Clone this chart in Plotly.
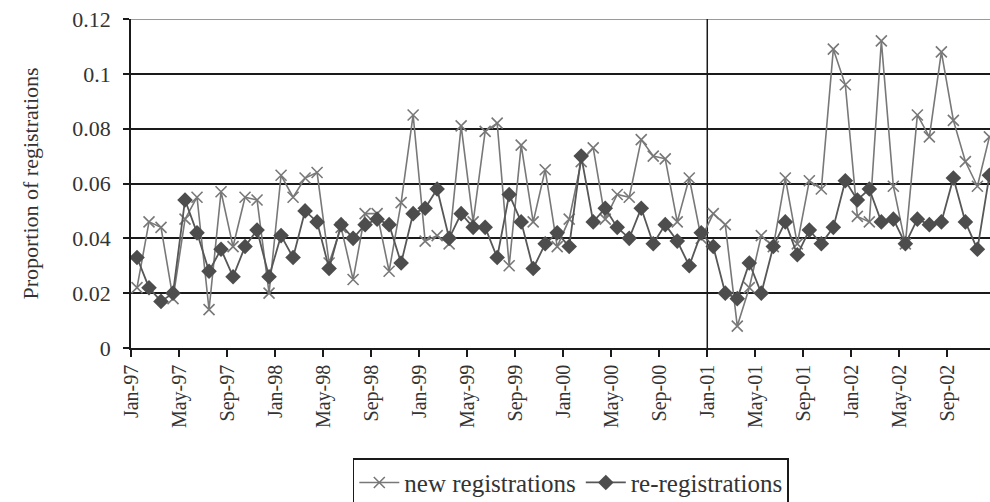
import plotly.graph_objects as go

# Monthly share of registrations, Jan-1997 .. Dec-2002
new_registrations = [
    0.022, 0.046, 0.044, 0.018, 0.047, 0.055, 0.014, 0.057, 0.037, 0.055, 0.054, 0.020,
    0.063, 0.055, 0.062, 0.064, 0.031, 0.044, 0.025, 0.049, 0.049, 0.028, 0.053, 0.085,
    0.039, 0.041, 0.038, 0.081, 0.046, 0.079, 0.082, 0.030, 0.074, 0.046, 0.065, 0.037,
    0.047, 0.068, 0.073, 0.047, 0.056, 0.055, 0.076, 0.070, 0.069, 0.046, 0.062, 0.040,
    0.049, 0.045, 0.008, 0.022, 0.041, 0.037, 0.062, 0.038, 0.061, 0.058, 0.109, 0.096,
    0.048, 0.046, 0.112, 0.059, 0.038, 0.085, 0.077, 0.108, 0.083, 0.068, 0.059, 0.077,
]
re_registrations = [
    0.033, 0.022, 0.017, 0.020, 0.054, 0.042, 0.028, 0.036, 0.026, 0.037, 0.043, 0.026,
    0.041, 0.033, 0.050, 0.046, 0.029, 0.045, 0.040, 0.045, 0.047, 0.045, 0.031, 0.049,
    0.051, 0.058, 0.040, 0.049, 0.044, 0.044, 0.033, 0.056, 0.046, 0.029, 0.038, 0.042,
    0.037, 0.070, 0.046, 0.051, 0.044, 0.040, 0.051, 0.038, 0.045, 0.039, 0.030, 0.042,
    0.037, 0.020, 0.018, 0.031, 0.020, 0.037, 0.046, 0.034, 0.043, 0.038, 0.044, 0.061,
    0.054, 0.058, 0.046, 0.047, 0.038, 0.047, 0.045, 0.046, 0.062, 0.046, 0.036, 0.063,
]
tick_labels = [
    "Jan-97", "May-97", "Sep-97", "Jan-98", "May-98", "Sep-98",
    "Jan-99", "May-99", "Sep-99", "Jan-00", "May-00", "Sep-00",
    "Jan-01", "May-01", "Sep-01", "Jan-02", "May-02", "Sep-02",
]
y_ticks = [0, 0.02, 0.04, 0.06, 0.08, 0.1, 0.12]
y_tick_labels = ["0", "0.02", "0.04", "0.06", "0.08", "0.1", "0.12"]

months = list(range(len(new_registrations)))
label_step = 4
# category boundaries: each month occupies one unit centred on its index
tick_positions = [i * label_step - 0.5 for i in range(len(tick_labels))]
break_position = tick_labels.index("Jan-01") * label_step - 0.5

FONT = "Liberation Serif"
TEXT = "#333333"

fig = go.Figure()
fig.add_trace(go.Scatter(
    x=months, y=new_registrations, name="new registrations",
    mode="lines+markers", cliponaxis=False,
    line=dict(color="#787878", width=1.6),
    marker=dict(symbol="x-thin-open", size=11, line=dict(color="#6a6a6a", width=1.6)),
))
fig.add_trace(go.Scatter(
    x=months, y=re_registrations, name="re-registrations",
    mode="lines+markers", cliponaxis=False,
    line=dict(color="#575757", width=1.8),
    marker=dict(symbol="diamond", size=12, color="#4d4d4d"),
))

# top border of the plot area and the Jan-01 divider
fig.add_shape(type="line", xref="paper", yref="y", x0=0, x1=1, y0=0.12, y1=0.12,
              line=dict(color="#9a9a9a", width=2), layer="below")
fig.add_shape(type="line", xref="x", yref="y", x0=break_position, x1=break_position,
              y0=0, y1=0.12, line=dict(color="#1a1a1a", width=1.5), layer="below")

fig.update_layout(
    width=990, height=502,
    margin=dict(l=131, r=0, t=19, b=154, autoexpand=False),
    paper_bgcolor="white", plot_bgcolor="white",
    font=dict(family=FONT, color=TEXT, size=19),
    showlegend=True,
    legend=dict(
        orientation="h", xanchor="center", yanchor="top",
        x=0.512, y=-0.335,
        bordercolor="#1a1a1a", borderwidth=1.5, bgcolor="white",
        font=dict(family=FONT, size=25, color=TEXT),
        itemwidth=40, tracegroupgap=0,
    ),
    xaxis=dict(
        range=[-0.5, 71.05],
        tickmode="array", tickvals=tick_positions, ticktext=tick_labels,
        tickangle=-90, ticks="outside", ticklen=7, tickwidth=1.5, tickcolor="#1a1a1a",
        showgrid=False, zeroline=False,
        showline=True, linecolor="#1a1a1a", linewidth=1.5,
        tickfont=dict(family=FONT, size=20, color=TEXT),
    ),
    yaxis=dict(
        range=[0, 0.12],
        tickmode="array", tickvals=y_ticks, ticktext=y_tick_labels,
        ticks="outside", ticklen=6, tickwidth=1.5, tickcolor="#1a1a1a",
        ticklabelstandoff=8,
        showgrid=True, gridcolor="#1a1a1a", gridwidth=1.5,
        zeroline=False,
        showline=True, linecolor="#1a1a1a", linewidth=1.5,
        tickfont=dict(family=FONT, size=22, color=TEXT),
        title=dict(text="Proportion of registrations", standoff=28,
                   font=dict(family=FONT, size=22, color=TEXT)),
    ),
)

fig.write_html("out.html")
